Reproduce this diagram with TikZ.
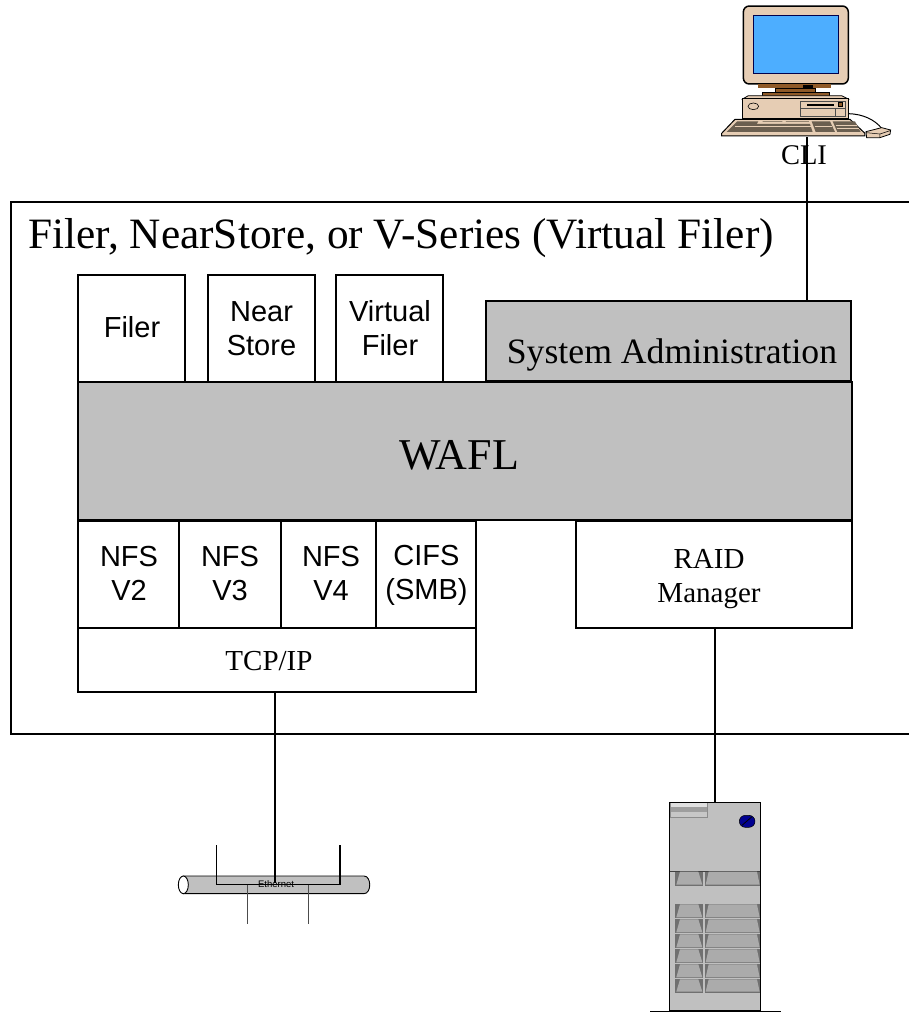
\documentclass[tikz,border=0pt]{standalone}
\usepackage{fontspec}
\setmainfont{Liberation Serif}
\newfontfamily\arialf{Liberation Sans}
\newcommand{\fsz}[1]{\fontsize{#1}{#1}\selectfont}
\definecolor{panelgray}{HTML}{C0C0C0}
\definecolor{baydark}{HTML}{707070}
\definecolor{baylight}{HTML}{ABABAB}
\definecolor{beige}{HTML}{E6CDB4}
\definecolor{screenblue}{HTML}{4DAEFF}
\definecolor{standbrown}{HTML}{8F5A28}
\definecolor{keydark}{HTML}{6B5F50}
\definecolor{logoblue}{HTML}{000090}
\tikzset{
  blk/.style={draw=black,line width=1.8pt,inner sep=0pt,align=center,anchor=center},
  grayblk/.style={blk,fill=panelgray},
  wire/.style={draw=black,line width=1.8pt},
  thinwire/.style={draw=black,line width=1.2pt},
  plainlabel/.style={inner sep=0pt,anchor=center,align=center},
  sanslabel/.style={plainlabel,font=\arialf\fsz{29}},
  seriflabel/.style={plainlabel,font=\fsz{29}},
  zoomcomp/.style={shift={(700pt,0pt)},x=0.3333pt,y=-0.3333pt},
  zoomsrv/.style={shift={(630pt,-790pt)},x=0.3333pt,y=-0.3333pt},
  zoometh/.style={shift={(165pt,-835pt)},x=0.3333pt,y=-0.3333pt},
}
\newcommand{\sbx}[6]{% name x1 y1 x2 y2 style
  \pgfmathsetmacro{\cxv}{(#2+#4)/2}\pgfmathsetmacro{\cyv}{(#3+#5)/2}
  \pgfmathsetmacro{\wv}{#4-#2}\pgfmathsetmacro{\hv}{#5-#3}
  \node[#6,minimum width=\wv pt,minimum height=\hv pt] (#1) at (\cxv,\cyv) {};}
\begin{document}
\begin{tikzpicture}[x=1pt,y=-1pt]
\useasboundingbox (0,0) rectangle (909,1013);
\clip (0,0) rectangle (909,1013);
% outer
\sbx{outer}{11}{202}{930}{734}{blk}
\node[plainlabel,font=\fsz{43.3}] (title) at (401,238) {Filer, NearStore, or V-Series (Virtual Filer)};
\coordinate (clitop) at (807,137);
\coordinate (ethtap) at (275,883);
\coordinate (srvtop) at (715,802);
% boxes
\sbx{filer}{78}{275}{185}{382}{blk}
\sbx{near}{208}{275}{315}{382}{blk}
\sbx{virt}{336}{275}{443}{382}{blk}
\sbx{sysadm}{486}{301}{851}{381}{grayblk}
\sbx{wafl}{78}{382}{852}{520}{grayblk}
\sbx{nfsa}{78}{521}{179}{628}{blk}
\sbx{nfsb}{179}{521}{281}{628}{blk}
\sbx{nfsc}{281}{521}{376}{628}{blk}
\sbx{cifs}{376}{521}{476}{628}{blk}
\sbx{tcp}{78}{628}{476}{692}{blk}
\sbx{raid}{576}{521}{852}{628}{blk}
% box labels
\node[sanslabel] (filerlabel) at (132,327) {Filer};
\node[sanslabel] (nearlabel) at (261.5,328.5) {Near\\[5pt]Store};
\node[sanslabel] (virtlabel) at (390,328.5) {Virtual\\[5pt]Filer};
\node[plainlabel,font=\fsz{35.7}] (sysadmlabel) at (672,355) {System Administration};
\node[plainlabel,font=\fsz{44}] (wafllabel) at (459,455) {WAFL};
\node[sanslabel] (nfsalabel) at (129,573.5) {NFS\\[5pt]V2};
\node[sanslabel] (nfsblabel) at (230,573.5) {NFS\\[5pt]V3};
\node[sanslabel] (nfsclabel) at (331,573.5) {NFS\\[5pt]V4};
\node[sanslabel] (cifslabel) at (426.5,575.5) {CIFS\\[5pt](SMB)};
\node[seriflabel] (tcplabel) at (269,661) {TCP/IP};
\node[seriflabel] (raidlabel) at (709,579) {RAID\\[5pt]Manager};
% computer
\begin{scope}[zoomcomp]
  \draw[black,line width=1.5pt,fill=beige,rounded corners=6pt] (130,18) rectangle (445,252);
  \draw[draw=black!70!blue,line width=1pt,fill=screenblue] (160,47) rectangle (417,222);
  \fill[standbrown] (175,253) rectangle (392,265);
  \fill[black] (310,255) rectangle (340,263);
  \draw[black,line width=.5pt,fill=standbrown] (225,265) rectangle (347,277);
  \draw[black,line width=.7pt,fill=standbrown] (187,277) rectangle (387,289);
  \draw[black,line width=.8pt,fill=beige] (128,297)--(145,287)--(425,287)--(445,297)--cycle;
  \draw[black,line width=1pt,fill=beige] (128,297) rectangle (445,355);
  \draw[black,line width=.6pt] (160,319) ellipse [x radius=16,y radius=10];
  \draw[black!70,line width=.7pt] (302,305) rectangle (437,348) (302,325)--(437,325) (407,325)--(407,348);
  \fill[black] (322,312) rectangle (402,318);
  \draw[black,line width=.4pt,fill=standbrown] (415,308) rectangle (428,320);
  \draw[black,line width=1pt] (445,341) .. controls (490,342) and (525,360) .. (545,385);
  \draw[black,line width=1pt,fill=beige] (65,400)--(105,358)--(450,358)--(495,400)--(495,408)--(65,408)--cycle;
  \draw[draw=none,fill=keydark] (80,396)--(112,364)--(175,364)--(170,372)--(330,372)--(338,396)--cycle;
  \draw[draw=none,fill=keydark] (335,364)--(390,364)--(405,396)--(347,396)--cycle;
  \draw[draw=none,fill=keydark] (398,364)--(465,364)--(482,396)--(412,396)--cycle;
  \fill[keydark] (188,364) rectangle (247,366) (258,364) rectangle (327,366);
  \draw[beige,line width=.6pt] (105,380)--(340,380) (345,380)--(395,380) (408,376)--(472,376) (412,386)--(478,386);
  \draw[black,line width=.8pt,fill=beige] (498,395)--(545,383)--(572,390)--(570,403)--(540,413)--(500,413)--cycle;
  \draw[black,line width=.5pt] (498,398)--(540,402)--(570,392) (540,402)--(540,413);
\end{scope}
\node[seriflabel,font=\fsz{28.5}] (cli) at (804,155) {CLI};
% server
\begin{scope}[zoomsrv]
  \draw[black,line width=.8pt,fill=panelgray] (118,36) rectangle (392,663);
  \fill[black!12] (120,36) rectangle (232,50);
  \fill[black!38] (120,52) rectangle (232,66);
  \fill[black!22] (120,67) rectangle (232,83);
  \draw[black!45,line width=.4pt] (120,36) rectangle (232,83);
  \draw[black,line width=.5pt,fill=logoblue,rounded corners=6pt] (328,76) rectangle (375,112);
  \draw[black,line width=.8pt] (336,106)--(366,80);
  \draw[black!75,line width=.8pt] (118,245)--(392,245);
  \foreach \ya/\yb in {245/287,343/385,388/430,433/475,478/520,523/565,568/608}{
    \fill[baydark] (136,\ya) rectangle (220,\yb);
    \fill[baydark] (224,\ya) rectangle (392,\yb);
    \fill[baylight] (150,\ya) -- (205,\ya) -- (217,\yb-3) -- (139,\yb-3) -- cycle;
    \fill[baylight] (236,\ya) -- (381,\ya) -- (389,\yb-3) -- (227,\yb-3) -- cycle;
  }
  \draw[black,line width=1pt] (118,36) rectangle (392,663);
  \draw[black,line width=1.5pt] (60,664)--(452,664);
\end{scope}
% ethernet
\begin{scope}[zoometh]
  \draw[black,line width=.9pt,fill=panelgray] (55,123) -- (597,123) .. controls (620,123) and (620,176) .. (597,176) -- (55,176) -- cycle;
  \draw[black,line width=.9pt,fill=white] (55,149.5) ellipse [x radius=15,y radius=26.5];
  \draw[thinwire] (154,30)--(154,149)--(525,149)--(525,30);
  \draw[black!70,line width=1.2pt] (247,149)--(247,268) (431,149)--(431,268);
\end{scope}
\node[plainlabel,font=\arialf\fsz{9.5}] (ethlabel) at (276,884) {Ethernet};
% connectors
\draw[wire] (clitop) -- (sysadm.north -| clitop);
\draw[wire] (tcp.south -| ethtap) -- (ethtap);
\draw[wire] (raid.south -| srvtop) -- (srvtop);
\end{tikzpicture}
\end{document}
